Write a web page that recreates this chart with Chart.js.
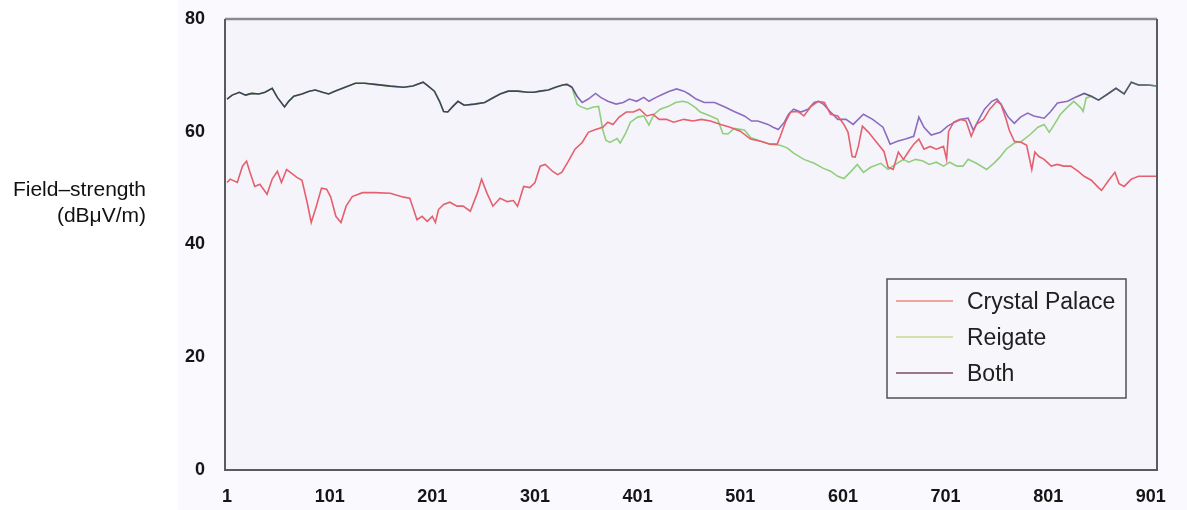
<!DOCTYPE html>
<html>
<head>
<meta charset="utf-8">
<script src="https://cdn.jsdelivr.net/npm/chart.js@4/dist/chart.umd.min.js"></script>
<style>
  html, body { margin: 0; padding: 0; background: #ffffff; }
  #wrap { position: relative; width: 1187px; height: 510px; }
</style>
</head>
<body>
<div id="wrap"><canvas id="c"></canvas></div>
<script>
// Field-strength records along the route: [sample index, dBµV/m]
const seriesNames = ['Crystal Palace', 'Reigate', 'Both'];
const xTickValues = [1, 101, 201, 301, 401, 501, 601, 701, 801, 901];
const yTickValues = [0, 20, 40, 60, 80];
const yTitleLines = ['Field–strength', '(dBμV/m)'];

const crystalPalace = [
  [1,51.0],[4,51.6],[11,51.0],[16,53.9],[20,54.8],[23,53.0],[28,50.3],[33,50.7],[40,48.9],[45,51.6],
  [50,53.0],[54,51.0],[59,53.3],[64,52.6],[69,51.9],[74,51.4],[79,47.5],[83,43.9],[88,46.8],[93,50.0],
  [98,49.8],[102,48.4],[107,45.0],[112,43.9],[117,46.8],[123,48.5],[133,49.2],[145,49.2],[160,49.1],[173,48.4],
  [179,48.2],[182,46.6],[186,44.4],[191,45.0],[196,44.1],[201,45.0],[204,43.9],[207,46.2],[212,47.1],[218,47.5],
  [225,46.8],[231,46.8],[238,45.9],[245,49.2],[249,51.6],[254,49.2],[260,46.8],[267,48.2],[274,47.6],[280,47.8],
  [284,46.8],[287,48.5],[290,50.3],[296,50.1],[301,51.0],[306,53.9],[311,54.2],[318,53.0],[323,52.4],[327,52.8],
  [333,54.6],[340,56.9],[347,58.1],[353,59.9],[360,60.4],[367,60.8],[372,61.7],[377,61.3],[383,62.6],[390,63.5],
  [397,63.5],[403,64.0],[410,62.8],[416,63.1],[422,62.2],[429,62.2],[436,61.7],[446,62.2],[455,61.9],[463,62.2],
  [472,61.9],[482,61.3],[491,60.8],[501,60.1],[511,58.7],[521,58.3],[530,57.8],[537,57.8],[540,59.2],[545,61.7],
  [550,63.5],[557,63.6],[563,62.8],[570,64.5],[577,65.4],[583,65.2],[589,63.1],[596,62.8],[602,61.3],[606,59.9],
  [610,55.6],[613,55.5],[616,57.4],[620,61.0],[626,59.9],[634,58.1],[641,56.5],[645,53.7],[650,53.3],[655,56.4],
  [660,55.1],[665,56.5],[670,57.8],[675,58.7],[680,56.9],[686,57.4],[692,56.9],[699,57.4],[702,55.1],[704,60.1],
  [709,61.7],[715,62.2],[721,61.9],[726,59.2],[731,61.3],[738,62.2],[744,64.0],[751,65.4],[755,64.9],[760,62.2],
  [763,60.3],[768,58.3],[775,58.1],[780,57.6],[785,53.3],[788,56.4],[792,55.6],[797,55.1],[804,53.9],[810,54.2],
  [816,53.9],[823,53.9],[830,53.0],[836,52.1],[843,51.4],[850,50.1],[853,49.6],[860,51.4],[866,52.8],[870,50.8],
  [875,50.3],[882,51.6],[889,52.1],[899,52.1],[907,52.1]
];

const reigate = [
  [1,65.8],[6,66.5],[13,67.0],[19,66.5],[25,66.8],[32,66.7],[38,67.0],[45,67.7],[50,66.1],[57,64.4],
  [61,65.4],[66,66.3],[74,66.7],[81,67.2],[87,67.4],[94,67.0],[100,66.7],[106,67.2],[116,67.9],[126,68.6],
  [135,68.6],[145,68.4],[160,68.1],[173,67.9],[182,68.1],[192,68.8],[197,68.1],[203,67.2],[208,65.4],[212,63.6],
  [216,63.5],[221,64.5],[226,65.4],[232,64.7],[242,64.9],[252,65.2],[258,65.8],[267,66.7],[275,67.2],[284,67.2],
  [294,67.0],[300,67.0],[306,67.2],[314,67.4],[321,67.9],[328,68.3],[332,68.4],[337,67.9],[342,64.9],[345,64.5],
  [352,64.0],[358,64.4],[363,64.5],[367,60.4],[370,58.5],[374,58.1],[381,58.8],[384,58.0],[389,59.6],[394,61.7],
  [401,62.6],[407,62.8],[412,61.2],[417,63.1],[423,64.0],[431,64.5],[438,65.2],[445,65.4],[450,65.2],[458,64.2],
  [462,63.5],[472,62.8],[479,62.2],[484,59.7],[489,59.6],[495,60.6],[505,60.3],[511,59.0],[521,58.3],[530,57.8],
  [540,57.6],[547,57.1],[553,56.2],[563,55.1],[573,54.4],[582,53.5],[589,53.0],[596,52.1],[602,51.7],[608,52.8],
  [615,54.2],[621,52.8],[628,53.7],[638,54.4],[645,53.3],[652,54.2],[660,55.1],[665,54.6],[672,55.1],[679,54.8],
  [685,54.2],[692,54.6],[699,53.9],[705,54.6],[712,53.9],[718,53.9],[723,55.1],[731,54.4],[741,53.3],[748,54.4],
  [754,55.5],[760,56.9],[768,58.0],[775,58.3],[784,59.6],[791,60.8],[797,61.3],[802,59.9],[807,61.3],[813,63.1],
  [820,64.4],[826,65.4],[833,64.2],[835,63.6],[838,66.0],[843,66.3],[850,65.6],[859,66.7],[867,67.7],[875,66.7],
  [882,68.8],[889,68.3],[899,68.3],[907,68.1]
];

const both = [
  [1,65.8],[6,66.5],[13,67.0],[19,66.5],[25,66.8],[32,66.7],[38,67.0],[45,67.7],[50,66.1],[57,64.4],
  [61,65.4],[66,66.3],[74,66.7],[81,67.2],[87,67.4],[94,67.0],[100,66.7],[106,67.2],[116,67.9],[126,68.6],
  [135,68.6],[145,68.4],[160,68.1],[173,67.9],[182,68.1],[192,68.8],[197,68.1],[203,67.2],[208,65.4],[212,63.6],
  [216,63.5],[221,64.5],[226,65.4],[232,64.7],[242,64.9],[252,65.2],[258,65.8],[267,66.7],[275,67.2],[284,67.2],
  [294,67.0],[300,67.0],[306,67.2],[314,67.4],[321,67.9],[328,68.3],[332,68.4],[337,67.9],[342,66.3],[347,65.2],
  [353,65.8],[360,66.8],[365,66.1],[372,65.4],[380,64.9],[387,65.2],[393,65.8],[400,65.4],[407,66.1],[412,65.4],
  [419,66.1],[426,66.7],[432,67.2],[439,67.6],[446,67.2],[451,66.7],[458,65.8],[466,65.2],[476,65.2],[486,64.4],
  [495,63.6],[505,62.8],[512,61.9],[518,61.9],[528,61.3],[533,60.8],[538,60.4],[544,61.7],[548,63.1],[553,64.0],
  [560,63.5],[567,64.0],[573,65.2],[577,65.4],[582,64.9],[589,63.5],[596,62.2],[604,62.2],[611,61.3],[621,63.1],
  [630,62.2],[640,60.8],[647,57.8],[654,58.3],[662,58.7],[670,59.2],[675,62.6],[680,60.8],[687,59.4],[696,59.9],
  [703,61.0],[710,61.7],[716,62.2],[723,62.4],[728,60.3],[733,62.0],[739,64.0],[746,65.4],[751,65.8],[755,64.9],
  [762,62.6],[768,61.5],[774,62.6],[781,63.3],[787,62.8],[797,62.4],[803,63.5],[810,65.1],[820,65.4],[826,66.0],
  [836,66.8],[843,66.3],[850,65.6],[859,66.7],[867,67.7],[875,66.7],[882,68.8],[889,68.3],[899,68.3],[907,68.1]
];

const seriesData = [crystalPalace, reigate, both];
const seriesColors = ['#e4606e', '#8fcf7c', '#8c6cc0'];

const FONT = '"Liberation Sans", Arial, Helvetica, sans-serif';

function toPoints(rows) {
  return rows.map(r => ({ x: r[0], y: r[1] }));
}

// "Both" trace: darker where it runs on top of the Reigate record
function bothStroke(context) {
  const chart = context.chart;
  const area = chart.chartArea;
  if (!area) return seriesColors[2];
  const xs = chart.scales.x;
  const g = chart.ctx.createLinearGradient(area.left, 0, area.right, 0);
  const f = v => Math.min(1, Math.max(0, (xs.getPixelForValue(v) - area.left) / (area.right - area.left)));
  g.addColorStop(0, '#3f4152');
  g.addColorStop(f(334), '#45455c');
  g.addColorStop(f(348), '#8c6cc0');
  g.addColorStop(f(826), '#8a6cbc');
  g.addColorStop(f(840), '#565272');
  g.addColorStop(f(895), '#565272');
  g.addColorStop(1, '#6e8cb8');
  return g;
}

const backdrop = {
  id: 'backdrop',
  beforeDraw(chart) {
    const { ctx, chartArea: a } = chart;
    ctx.save();
    ctx.fillStyle = '#faf9fd';
    ctx.fillRect(178, 0, chart.width - 178, chart.height);
    ctx.fillStyle = '#f6f4fb';
    ctx.fillRect(a.left, a.top, a.right - a.left, a.bottom - a.top);
    ctx.restore();
  }
};

const frameAndLegend = {
  id: 'frameAndLegend',
  afterDatasetsDraw(chart) {
    const { ctx, chartArea: a } = chart;
    ctx.save();
    // plot frame
    ctx.strokeStyle = '#8a8a90';
    ctx.lineWidth = 2.5;
    ctx.beginPath();
    ctx.moveTo(a.left, a.top);
    ctx.lineTo(a.right, a.top);
    ctx.stroke();
    ctx.strokeStyle = '#5a5a60';
    ctx.lineWidth = 2;
    ctx.beginPath();
    ctx.moveTo(a.right, a.top);
    ctx.lineTo(a.right, a.bottom);
    ctx.lineTo(a.left, a.bottom);
    ctx.lineTo(a.left, a.top);
    ctx.stroke();

    // legend box
    const bx = a.right - 270, by = a.bottom - 191, bw = 239, bh = 119;
    ctx.fillStyle = '#f7f6fb';
    ctx.fillRect(bx, by, bw, bh);
    ctx.strokeStyle = '#505055';
    ctx.lineWidth = 1.5;
    ctx.strokeRect(bx, by, bw, bh);
    ctx.font = '23px ' + FONT;
    ctx.textBaseline = 'middle';
    ctx.textAlign = 'left';
    const legendLine = ['#ec8a7c', '#c4d890', '#7e4a6a'];
    chart.data.datasets.forEach((ds, i) => {
      const y = by + 24 + i * 36;
      ctx.strokeStyle = legendLine[i];
      ctx.lineWidth = 1.5;
      ctx.beginPath();
      ctx.moveTo(bx + 9, y - 2);
      ctx.lineTo(bx + 66, y - 2);
      ctx.stroke();
      ctx.fillStyle = '#202020';
      ctx.fillText(ds.label, bx + 80, y);
    });

    // horizontal axis title on the left
    ctx.font = '21px ' + FONT;
    ctx.textAlign = 'right';
    ctx.fillStyle = '#111111';
    ctx.fillText(yTitleLines[0], 146, 190);
    ctx.fillText(yTitleLines[1], 146, 216);
    ctx.restore();
  }
};

new Chart(document.getElementById('c'), {
  type: 'line',
  data: {
    datasets: seriesNames.map((name, i) => ({
      label: name,
      data: toPoints(seriesData[i]),
      borderColor: i === 2 ? bothStroke : seriesColors[i],
      borderWidth: 1.6,
      pointRadius: 0,
      tension: 0,
      fill: false,
      order: i === 0 ? 0 : (i === 2 ? 1 : 2)
    }))
  },
  options: {
    responsive: true,
    maintainAspectRatio: false,
    animation: false,
    events: [],
    layout: { padding: { top: 19, right: 30, left: 0, bottom: 0 } },
    plugins: { legend: { display: false }, tooltip: { enabled: false } },
    scales: {
      x: {
        type: 'linear',
        min: -1,
        max: 907,
        afterBuildTicks: s => { s.ticks = xTickValues.map(v => ({ value: v })); },
        afterFit: s => { s.height = 40; },
        grid: { display: false, drawTicks: false },
        border: { display: false },
        ticks: {
          autoSkip: false,
          maxRotation: 0,
          padding: 16,
          color: '#151515',
          font: { family: FONT, size: 18, weight: 'bold' },
          callback: v => String(v)
        }
      },
      y: {
        min: 0,
        max: 80,
        afterBuildTicks: s => { s.ticks = yTickValues.map(v => ({ value: v })); },
        afterFit: s => { s.width = 225; s.paddingTop = 0; s.paddingBottom = 0; },
        grid: { display: false, drawTicks: false },
        border: { display: false },
        ticks: {
          padding: 20,
          color: '#151515',
          font: { family: FONT, size: 18, weight: 'bold' },
          callback: v => String(v)
        }
      }
    }
  },
  plugins: [backdrop, frameAndLegend]
});
</script>
</body>
</html>
